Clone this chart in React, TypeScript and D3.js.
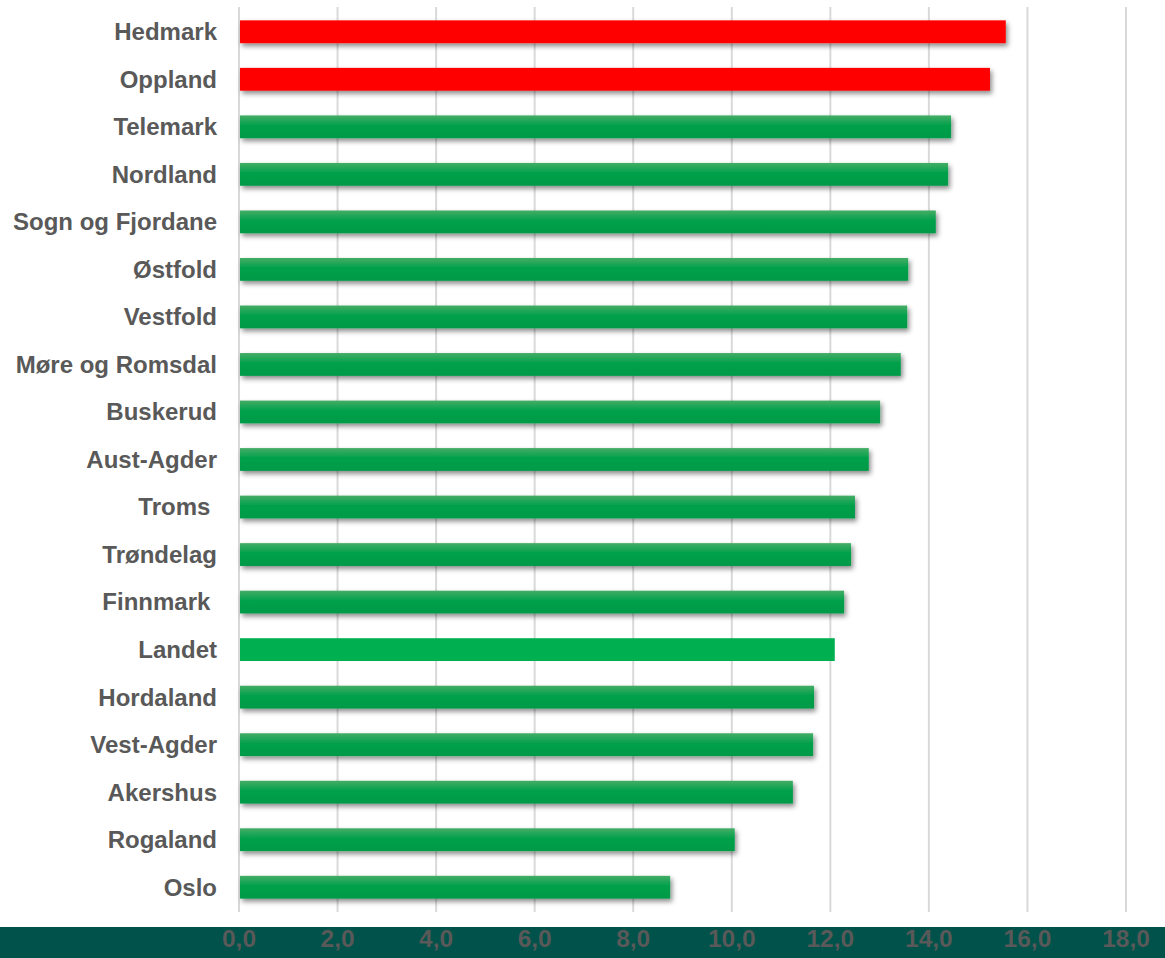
import React, { useEffect, useRef } from 'react';
import * as d3 from 'd3';

// fylker, sortert slik de står i figuren
const regions = [
  'Hedmark', 'Oppland', 'Telemark', 'Nordland', 'Sogn og Fjordane', 'Østfold',
  'Vestfold', 'Møre og Romsdal', 'Buskerud', 'Aust-Agder', 'Troms ', 'Trøndelag',
  'Finnmark ', 'Landet', 'Hordaland', 'Vest-Agder', 'Akershus', 'Rogaland', 'Oslo',
];
const values = [
  15.56, 15.24, 14.45, 14.39, 14.14, 13.58, 13.56, 13.43, 13.01, 12.78, 12.5, 12.42,
  12.28, 12.09, 11.67, 11.65, 11.24, 10.06, 8.75,
];
// markerte grupper
const redRegions = ['Hedmark', 'Oppland'];
const totalRegion = 'Landet';
const xTicks = [0, 2, 4, 6, 8, 10, 12, 14, 16, 18];

const App = () => {
  const svgRef = useRef(null);

  useEffect(() => {
    const svg = d3.select(svgRef.current);
    svg.selectAll('*').remove();

    const width = 1165;
    const height = 958;
    const margin = { top: 8, right: 39, bottom: 47, left: 239 };
    const innerWidth = width - margin.left - margin.right;
    const innerHeight = height - margin.top - margin.bottom;

    const defs = svg.append('defs');
    const grad = defs.append('linearGradient')
      .attr('id', 'greenGrad')
      .attr('x1', 0).attr('y1', 0).attr('x2', 0).attr('y2', 1);
    grad.append('stop').attr('offset', '0%').attr('stop-color', '#45ad66');
    grad.append('stop').attr('offset', '45%').attr('stop-color', '#00a04b');
    grad.append('stop').attr('offset', '100%').attr('stop-color', '#009a47');

    const shadow = defs.append('filter')
      .attr('id', 'shadow')
      .attr('x', '-5%').attr('y', '-30%').attr('width', '110%').attr('height', '180%');
    shadow.append('feDropShadow')
      .attr('dx', 2).attr('dy', 3).attr('stdDeviation', 2.5)
      .attr('flood-color', '#000').attr('flood-opacity', 0.45);

    const xScale = d3.scaleLinear().domain([0, 18]).range([0, innerWidth]);
    const yScale = d3.scaleBand()
      .domain(regions)
      .range([0, innerHeight])
      .paddingInner(0.52)
      .paddingOuter(0.26);

    // bunnstripe
    svg.append('rect')
      .attr('x', 0).attr('y', 927)
      .attr('width', width).attr('height', height - 927)
      .attr('fill', '#00524a');

    const g = svg.append('g').attr('transform', `translate(${margin.left},${margin.top})`);

    // rutenett
    g.append('g')
      .selectAll('line')
      .data(xTicks)
      .join('line')
      .attr('x1', d => xScale(d))
      .attr('x2', d => xScale(d))
      .attr('y1', -1)
      .attr('y2', innerHeight + 1)
      .attr('stroke', '#d9d9d9')
      .attr('stroke-width', 2);

    // stolper
    g.append('g')
      .selectAll('rect')
      .data(regions)
      .join('rect')
      .attr('x', 1)
      .attr('y', d => yScale(d))
      .attr('width', (d, i) => xScale(values[i]) - 1)
      .attr('height', yScale.bandwidth())
      .attr('fill', d => redRegions.includes(d) ? '#ff0000' : d === totalRegion ? '#00b050' : 'url(#greenGrad)')
      .attr('filter', d => d === totalRegion ? null : 'url(#shadow)');

    // kategorietiketter
    g.append('g')
      .selectAll('text')
      .data(regions)
      .join('text')
      .attr('x', -22)
      .attr('y', d => yScale(d) + yScale.bandwidth() / 2)
      .attr('dy', '0.35em')
      .attr('text-anchor', 'end')
      .style('white-space', 'pre')
      .attr('font-family', 'Liberation Sans, Arial, sans-serif')
      .attr('font-weight', 'bold')
      .attr('font-size', 24)
      .attr('fill', '#595959')
      .text(d => d);

    // x-akse etiketter
    g.append('g')
      .selectAll('text')
      .data(xTicks)
      .join('text')
      .attr('x', d => xScale(d))
      .attr('y', 947 - margin.top)
      .attr('text-anchor', 'middle')
      .attr('font-family', 'Liberation Sans, Arial, sans-serif')
      .attr('font-weight', 'bold')
      .attr('font-size', 24.5)
      .attr('fill', '#595959')
      .text(d => d3.format('.1f')(d).replace('.', ','));
  }, []);

  return (
    <svg ref={svgRef} width={1165} height={958} style={{ display: 'block', position: 'absolute', left: 0, top: 0 }} />
  );
};

export default App;
